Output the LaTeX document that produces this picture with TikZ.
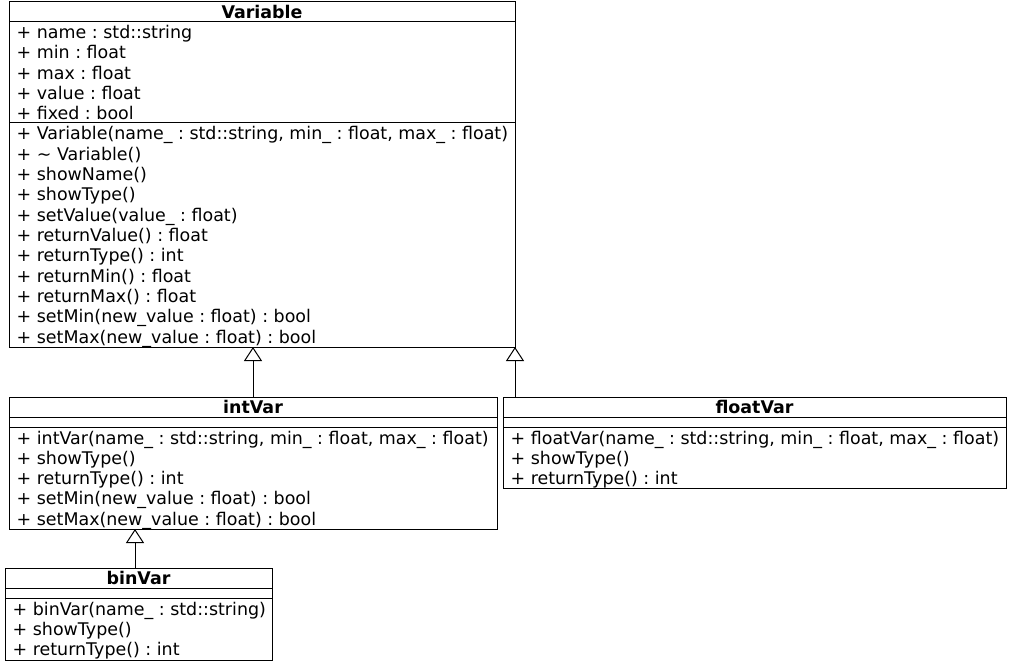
\documentclass[tikz,border=0pt]{standalone}
\usepackage{fontspec}
\setmainfont{DejaVu Sans}
\frenchspacing
\usetikzlibrary{arrows.meta,positioning}
\tikzstyle{classbox} = [draw, rectangle, line width=1pt, inner sep=0pt, outer sep=0pt, anchor=north west]
\tikzstyle{classname} = [anchor=base, inner sep=0pt, font=\bfseries\fontsize{17.45pt}{20.3pt}\selectfont]
\tikzstyle{member} = [anchor=base west, inner sep=0pt, font=\fontsize{17.45pt}{20.3pt}\selectfont]
\tikzstyle{inherit} = [-{Triangle[open, length=14pt, width=18pt]}, line width=1pt]
\begin{document}
\begin{tikzpicture}[x=1pt, y=-1pt]
    \fill[white] (0,0) rectangle (1010,663);
    \useasboundingbox (0,0) rectangle (1010,663);

    \node [classbox, minimum width=506pt, minimum height=345pt] (variable) at (9,2) {};
    \node [classbox, minimum width=488pt, minimum height=132pt, below=50pt of variable.south west, anchor=north west] (intvar) {};
    \node [classbox, minimum width=503pt, minimum height=91pt, right=6pt of intvar.north east, anchor=north west] (floatvar) {};
    \node [classbox, minimum width=267pt, minimum height=92pt, below=39pt of intvar.south west, anchor=north west, xshift=-4pt] (binvar) {};

    \foreach \c/\d in {variable/20pt, variable/121pt, intvar/20pt, intvar/30pt, floatvar/20pt, floatvar/30pt, binvar/20pt, binvar/30pt}
        \draw [line width=1pt] ([yshift=-\d]\c.north west) -- ([yshift=-\d]\c.north east);

    \node [classname] (variable-name) at ([yshift=-16.3pt]variable.north) {Variable};
    \node [classname] (intvar-name) at ([yshift=-16.3pt]intvar.north) {intVar};
    \node [classname] (floatvar-name) at ([yshift=-16.3pt]floatvar.north) {floatVar};
    \node [classname] (binvar-name) at ([yshift=-16.3pt]binvar.north) {binVar};

    % Variable
    \foreach \txt [count=\i from 0] in {{+ name : std::string}, {+ min : float}, {+ max : float}, {+ value : float}, {+ fixed : bool}}
        \node [member] (variable-a\i) at ([xshift=7.5pt, yshift=-36.5pt-\i*20.3pt]variable.north west) {\txt};
    \foreach \txt [count=\i from 0] in {{+ Variable(name\_ : std::string, min\_ : float, max\_ : float)}, {+ \textasciitilde{} Variable()}, {+ showName()}, {+ showType()}, {+ setValue(value\_ : float)}, {+ returnValue() : float}, {+ returnType() : int}, {+ returnMin() : float}, {+ returnMax() : float}, {+ setMin(new\_value : float) : bool}, {+ setMax(new\_value : float) : bool}}
        \node [member] (variable-m\i) at ([xshift=7.5pt, yshift=-138pt-\i*20.3pt]variable.north west) {\txt};

    % intVar
    \foreach \txt [count=\i from 0] in {{+ intVar(name\_ : std::string, min\_ : float, max\_ : float)}, {+ showType()}, {+ returnType() : int}, {+ setMin(new\_value : float) : bool}, {+ setMax(new\_value : float) : bool}}
        \node [member] (intvar-m\i) at ([xshift=7.5pt, yshift=-47pt-\i*20.3pt]intvar.north west) {\txt};

    % floatVar
    \foreach \txt [count=\i from 0] in {{+ floatVar(name\_ : std::string, min\_ : float, max\_ : float)}, {+ showType()}, {+ returnType() : int}}
        \node [member] (floatvar-m\i) at ([xshift=7.5pt, yshift=-47pt-\i*20.3pt]floatvar.north west) {\txt};

    % binVar
    \foreach \txt [count=\i from 0] in {{+ binVar(name\_ : std::string)}, {+ showType()}, {+ returnType() : int}}
        \node [member] (binvar-m\i) at ([xshift=7.5pt, yshift=-47pt-\i*20.3pt]binvar.north west) {\txt};

    \draw [inherit] (intvar.north) -- (intvar.north |- variable.south);
    \draw [inherit] (floatvar.north -| variable.south east) -- (variable.south east);
    \draw [inherit] ([xshift=-3.5pt]binvar.north) -- ([xshift=-3.5pt]binvar.north |- intvar.south);
\end{tikzpicture}
\end{document}
